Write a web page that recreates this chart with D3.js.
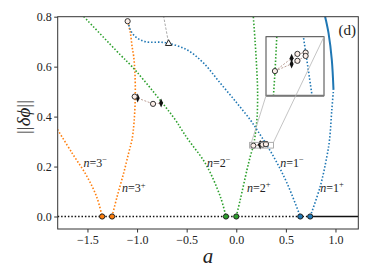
<!DOCTYPE html>
<html>
<head>
<meta charset="utf-8">
<script src="https://cdn.jsdelivr.net/npm/d3@7"></script>
<style>
  body { margin: 0; background: #fff; }
</style>
</head>
<body>
<svg id="chart" width="374" height="280"></svg>
<script>
// branches of ||dphi|| against a
const orange3Minus = [[-1.82, 0.36], [-1.655, 0.254], [-1.504, 0.16], [-1.403, 0.074], [-1.352, 0]];
const orange3Plus = [[-1.252, 0], [-1.201, 0.08], [-1.135, 0.174], [-1.085, 0.254], [-1.05, 0.31],
  [-1.03, 0.38], [-1.018, 0.48], [-1.022, 0.58], [-1.034, 0.64], [-1.05, 0.68], [-1.067, 0.734], [-1.095, 0.782]];
const green2Minus = [[-1.56, 0.81], [-1.168, 0.647], [-1.067, 0.607], [-0.934, 0.547], [-0.614, 0.387],
  [-0.55, 0.347], [-0.483, 0.307], [-0.312, 0.213], [-0.161, 0.08], [-0.104, 0]];
const green2Plus = [[0, 0], [0.04, 0.067], [0.108, 0.187], [0.141, 0.24], [0.176, 0.29], [0.195, 0.34],
  [0.21, 0.4], [0.215, 0.5], [0.205, 0.6], [0.19, 0.7], [0.17, 0.81]];
const blue1Minus = [[-1.09, 0.78], [-1.067, 0.747], [-1.017, 0.72], [-0.916, 0.7], [-0.715, 0.696],
  [-0.496, 0.667], [-0.329, 0.614], [-0.161, 0.534], [0.007, 0.454], [0.141, 0.387], [0.222, 0.339],
  [0.376, 0.24], [0.511, 0.134], [0.645, 0]];
const blue1PlusDotted = [[0.745, 0], [0.846, 0.12], [0.913, 0.24], [0.94, 0.307], [0.963, 0.427], [0.98, 0.507]];
const blue1PlusSolid = [[0.98, 0.507], [0.963, 0.627], [0.93, 0.734], [0.896, 0.8], [0.88, 0.83]];
const zeroDotted = [[-1.8, 0], [0.745, 0]];
const zeroSolid = [[0.745, 0], [1.23, 0]];
const guideDashed = [[-0.741, 0.82], [-0.682, 0.694]];

const orangeZeros = [-1.352, -1.252];
const greenZeros = [-0.104, 0];
const blueZeros = [0.645, 0.745];
const orangeTop = [[-1.095, 0.782]];
const triangle = [[-0.682, 0.694]];

// bifurcation markers
const openLeft = [[-1.024, 0.48], [-0.839, 0.451]];
const solidLeft = [[-0.994, 0.474], [-0.758, 0.454]];
const pathLeft = [[-1.024, 0.48], [-0.994, 0.474], [-0.839, 0.451], [-0.758, 0.454]];
const openRight = [[0.172, 0.2836], [0.265, 0.2903], [0.265, 0.2876], [0.299, 0.2908], [0.299, 0.2895]];
const solidRight = [[0.241, 0.2886], [0.241, 0.2864]];
const pathRightA = [[0.172, 0.2836], [0.241, 0.2886], [0.265, 0.2903], [0.299, 0.2908]];
const pathRightB = [[0.172, 0.2836], [0.241, 0.2864], [0.265, 0.2876], [0.299, 0.2895]];

const xTicks = [-1.5, -1.0, -0.5, 0.0, 0.5, 1.0];
const yTicks = [0.0, 0.2, 0.4, 0.6, 0.8];
const branchLabels = [
  ["3", "\u2212", -1.541, 0.199], ["3", "+", -1.151, 0.097],
  ["2", "\u2212", -0.295, 0.199], ["2", "+", 0.108, 0.099],
  ["1", "\u2212", 0.443, 0.199], ["1", "+", 0.846, 0.099]
];

const insetXDomain = [0.135, 0.375];
const insetYDomain = [0.274, 0.297];

const ORANGE = "#ff7f0e", GREEN = "#2ca02c", BLUE = "#1f77b4";
const SERIF = "'Liberation Serif', serif";

const width = 374, height = 280;
const margin = { top: 16.7, right: 15.7, bottom: 51, left: 57.7 };
const svg = d3.select("#chart");

const x = d3.scaleLinear().domain([-1.8, 1.23]).range([margin.left, width - margin.right]);
const y = d3.scaleLinear().domain([-0.05, 0.8]).range([height - margin.bottom, margin.top]);

const defs = svg.append("defs");
defs.append("clipPath").attr("id", "mainClip").append("rect")
  .attr("x", margin.left).attr("y", margin.top)
  .attr("width", width - margin.left - margin.right)
  .attr("height", height - margin.top - margin.bottom);

const diamond = "M0,-4.5L2,0L0,4.5L-2,0Z";

function drawPanel(g, xs, ys, withZero) {
  const line = d3.line().x(d => xs(d[0])).y(d => ys(d[1])).curve(d3.curveCatmullRom);
  const dotted = (data, color) => g.append("path").datum(data).attr("d", line)
    .attr("fill", "none").attr("stroke", color).attr("stroke-width", 1.6)
    .attr("stroke-dasharray", "1.5,1.9");

  if (withZero) {
    dotted(zeroDotted, "#111");
    g.append("path").datum(zeroSolid).attr("d", line).attr("fill", "none")
      .attr("stroke", "#111").attr("stroke-width", 1.6);
    g.append("path").datum(guideDashed).attr("d", line).attr("fill", "none")
      .attr("stroke", "#aaa").attr("stroke-width", 1).attr("stroke-dasharray", "2.5,1.5");
  }
  dotted(orange3Minus, ORANGE);
  dotted(orange3Plus, ORANGE);
  dotted(green2Minus, GREEN);
  dotted(green2Plus, GREEN);
  dotted(blue1Minus, BLUE);
  dotted(blue1PlusDotted, BLUE);
  g.append("path").datum(blue1PlusSolid).attr("d", line).attr("fill", "none")
    .attr("stroke", BLUE).attr("stroke-width", 2);

  // dashed connections between bifurcation points
  [pathLeft, pathRightA, pathRightB].forEach(p => {
    g.append("path").datum(p).attr("d", d3.line().x(d => xs(d[0])).y(d => ys(d[1])))
      .attr("fill", "none").attr("stroke", "#a8857a").attr("stroke-width", 0.8)
      .attr("stroke-dasharray", "2,1.5");
  });

  g.selectAll(null).data(solidLeft.concat(solidRight)).join("path")
    .attr("d", diamond)
    .attr("transform", d => `translate(${xs(d[0])},${ys(d[1])})`)
    .attr("fill", "#111");
  g.selectAll(null).data(openLeft.concat(openRight).concat(orangeTop)).join("circle")
    .attr("cx", d => xs(d[0])).attr("cy", d => ys(d[1])).attr("r", 2.6)
    .attr("fill", "#fbeee8").attr("stroke", "#333").attr("stroke-width", 1);

  if (withZero) {
    g.selectAll(null).data(triangle).join("path")
      .attr("d", "M0,-3.4L3.2,2.3L-3.2,2.3Z")
      .attr("transform", d => `translate(${xs(d[0])},${ys(d[1])})`)
      .attr("fill", "#fff").attr("stroke", "#222").attr("stroke-width", 1);
    [[orangeZeros, ORANGE], [greenZeros, GREEN], [blueZeros, BLUE]].forEach(([vals, c]) => {
      g.selectAll(null).data(vals).join("circle")
        .attr("cx", d => xs(d)).attr("cy", ys(0)).attr("r", 2.6)
        .attr("fill", c).attr("stroke", "#222").attr("stroke-width", 1);
    });
  }
}

// main panel
const main = svg.append("g").attr("clip-path", "url(#mainClip)");
drawPanel(main, x, y, true);

// small box marking the zoomed region
main.append("rect")
  .attr("x", x(insetXDomain[0])).attr("y", y(insetYDomain[1]))
  .attr("width", x(insetXDomain[1]) - x(insetXDomain[0]))
  .attr("height", y(insetYDomain[0]) - y(insetYDomain[1]))
  .attr("fill", "none").attr("stroke", "#999").attr("stroke-width", 0.8);

// frame + axes
svg.append("rect")
  .attr("x", margin.left).attr("y", margin.top)
  .attr("width", width - margin.left - margin.right)
  .attr("height", height - margin.top - margin.bottom)
  .attr("fill", "none").attr("stroke", "#333").attr("stroke-width", 1);

const xAxis = svg.append("g")
  .attr("transform", `translate(0,${height - margin.bottom})`)
  .call(d3.axisBottom(x).tickValues(xTicks).tickFormat(d3.format(".1f")).tickSize(3.5).tickPadding(3));
const yAxis = svg.append("g")
  .attr("transform", `translate(${margin.left},0)`)
  .call(d3.axisLeft(y).tickValues(yTicks).tickFormat(d3.format(".1f")).tickSize(3.5).tickPadding(2.5));
[xAxis, yAxis].forEach(ax => {
  ax.select(".domain").remove();
  ax.selectAll("line").attr("stroke", "#333");
  ax.selectAll("text").attr("fill", "#222")
    .style("font-family", SERIF).style("font-size", "12px");
});

svg.append("text")
  .attr("x", (margin.left + width - margin.right) / 2).attr("y", 263)
  .attr("text-anchor", "middle").attr("fill", "#222")
  .style("font-family", SERIF).style("font-size", "21px").style("font-style", "italic")
  .text("a");

const yl = svg.append("text")
  .attr("transform", "translate(30,117) rotate(-90)")
  .attr("text-anchor", "middle").attr("fill", "#222")
  .style("font-family", SERIF).style("font-size", "19px");
yl.append("tspan").text("||");
yl.append("tspan").style("font-style", "italic").text("\u03b4\u03d5");
yl.append("tspan").text("||");

svg.append("text").attr("x", 356).attr("y", 35).attr("text-anchor", "end")
  .attr("fill", "#222").style("font-family", SERIF).style("font-size", "15px").text("(d)");

branchLabels.forEach(([n, s, a, v]) => {
  const t = svg.append("text").attr("x", x(a)).attr("y", y(v)).attr("fill", "#222")
    .style("font-family", SERIF).style("font-size", "12px");
  t.append("tspan").style("font-style", "italic").text("n");
  t.append("tspan").text("=" + n);
  t.append("tspan").attr("dy", -4.5).style("font-size", "8.5px").text(s);
});

// inset
const inset = { x0: 266, x1: 324, y0: 36.7, y1: 95.7 };
const xi = d3.scaleLinear().domain(insetXDomain).range([inset.x0, inset.x1]);
const yi = d3.scaleLinear().domain(insetYDomain).range([inset.y1, inset.y0]);
defs.append("clipPath").attr("id", "insetClip").append("rect")
  .attr("x", inset.x0).attr("y", inset.y0)
  .attr("width", inset.x1 - inset.x0).attr("height", inset.y1 - inset.y0);
svg.append("rect").attr("x", inset.x0).attr("y", inset.y0)
  .attr("width", inset.x1 - inset.x0).attr("height", inset.y1 - inset.y0).attr("fill", "#fff");
const ig = svg.append("g").attr("clip-path", "url(#insetClip)");
drawPanel(ig, xi, yi, false);
svg.append("rect").attr("x", inset.x0).attr("y", inset.y0)
  .attr("width", inset.x1 - inset.x0).attr("height", inset.y1 - inset.y0)
  .attr("fill", "none").attr("stroke", "#444").attr("stroke-width", 1);
svg.append("line").attr("x1", inset.x0).attr("x2", inset.x1)
  .attr("y1", inset.y1).attr("y2", inset.y1).attr("stroke", "#777").attr("stroke-width", 2);

// connectors from the inset to the marked region
const connectors = [
  [[inset.x0, inset.y1], [x(insetXDomain[0]), y(insetYDomain[0])]],
  [[inset.x1, inset.y0], [x(insetXDomain[1]), y(insetYDomain[1])]]
];
connectors.forEach(([p, q]) => {
  svg.append("line").attr("x1", p[0]).attr("y1", p[1]).attr("x2", q[0]).attr("y2", q[1])
    .attr("stroke", "#b5b5b5").attr("stroke-width", 0.8);
});
</script>
</body>
</html>
